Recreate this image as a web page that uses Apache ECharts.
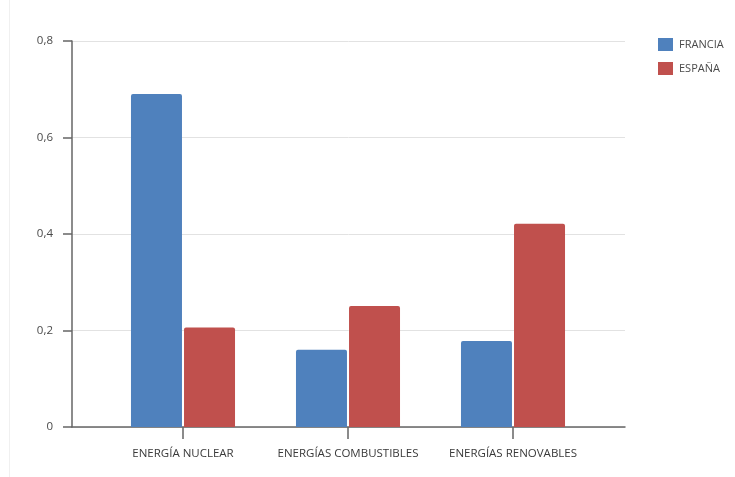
<!DOCTYPE html>
<html>
<head>
<meta charset="utf-8">
<script src="https://cdn.jsdelivr.net/npm/echarts@6/dist/echarts.min.js"></script>
<style>
html,body{margin:0;padding:0;background:#fff;}
#chart{width:735px;height:477px;}
</style>
</head>
<body>
<div id="chart"></div>
<script>
const categories = ['ENERGÍA NUCLEAR', 'ENERGÍAS COMBUSTIBLES', 'ENERGÍAS RENOVABLES'];
const francia = [0.69, 0.16, 0.178];
const espana = [0.206, 0.251, 0.421];
const seriesNames = ['FRANCIA', 'ESPAÑA'];

const chart = echarts.init(document.getElementById('chart'));
const font = '"Open Sans", "DejaVu Sans", sans-serif';
chart.setOption({
  animation: false,
  backgroundColor: '#ffffff',
  graphic: [{
    type: 'line', shape: {x1: 9.5, y1: 0, x2: 9.5, y2: 477},
    style: {stroke: '#f0f0f0', lineWidth: 1}, silent: true
  }],
  legend: {
    orient: 'vertical', left: 653, top: 33,
    itemWidth: 15, itemHeight: 13, itemGap: 11,
    icon: 'rect',
    textStyle: {color: '#4a4a4a', fontSize: 11, fontFamily: font, padding: [0, 0, 0, 1]},
    data: seriesNames
  },
  grid: [
    {left: 72, right: 110, top: 41, bottom: 50},
    {left: 100.5, width: 495, top: 41, bottom: 50}
  ],
  xAxis: [
    {gridIndex: 0, type: 'value', min: 0, max: 1,
     axisLine: {show: true, onZero: false, lineStyle: {color: '#666', width: 1.5}},
     axisTick: {show: false}, axisLabel: {show: false}, splitLine: {show: false}},
    {gridIndex: 1, type: 'category', data: categories,
     axisLine: {show: false},
     axisTick: {show: true, interval: 0, alignWithLabel: true, length: 12, lineStyle: {color: '#666', width: 1.5}},
     axisLabel: {interval: 0, color: '#3a3a3a', fontSize: 11.5, fontFamily: font, margin: 21}}
  ],
  yAxis: [
    {gridIndex: 0, type: 'value', min: 0, max: 0.8, interval: 0.2,
     axisLine: {show: true, lineStyle: {color: '#666', width: 1.5}},
     axisTick: {show: true, length: 9, lineStyle: {color: '#666', width: 1.5}},
     axisLabel: {color: '#4a4a4a', fontSize: 11.5, fontFamily: font, margin: 19,
       formatter: v => String(Math.round(v * 10) / 10).replace('.', ',')},
     splitLine: {show: true, lineStyle: {color: '#e2e2e2', width: 1}}},
    {gridIndex: 1, type: 'value', min: 0, max: 0.8, show: false}
  ],
  series: [
    {name: seriesNames[0], type: 'bar', xAxisIndex: 1, yAxisIndex: 1, data: francia,
     barWidth: 51, barGap: '4%', itemStyle: {color: '#4F81BD', borderRadius: [2, 2, 0, 0]}},
    {name: seriesNames[1], type: 'bar', xAxisIndex: 1, yAxisIndex: 1, data: espana,
     barWidth: 51, barGap: '4%', itemStyle: {color: '#C0504D', borderRadius: [2, 2, 0, 0]}}
  ]
});
</script>
</body>
</html>
